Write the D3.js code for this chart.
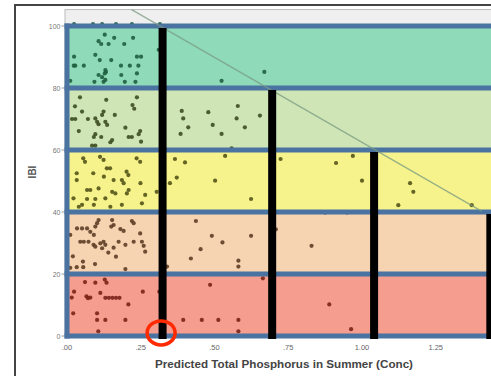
<!DOCTYPE html>
<html>
<head>
<meta charset="utf-8">
<script src="https://cdn.jsdelivr.net/npm/d3@7"></script>
<style>
  body { margin: 0; background: #fff; }
  svg { display: block; font-family: Arial, "Liberation Sans", sans-serif; }
</style>
</head>
<body>
<svg id="chart"></svg>
<script>
// IBI classes (lower, upper bound) and their fills
const classBreaks = [0, 20, 40, 60, 80, 100];
const classColors = ['#f59d8f', '#f6d3b1', '#f6f38c', '#cfe5b6', '#8fdab8'];
const pointColors = ['#7a2418', '#5e3e26', '#545418', '#3d4d22', '#1e5e3e'];

// axis ticks
const xTicks = [0, 0.25, 0.5, 0.75, 1, 1.25];
const xTickLabels = ['.00', '.25', '.50', '.75', '1.00', '1.25'];
const yTicks = [0, 20, 40, 60, 80, 100];
const yTickLabels = ['0', '20', '40', '60', '80', '100'];

// threshold bars: predicted TP where the fitted line crosses each class top
const barTP = [0.324, 0.6955, 1.041, 1.435];
const barTop = [100, 80, 60, 40];

// fitted line end points [TP, IBI]
const fitLine = [[0.219, 105.3], [1.405, 40.3]];

// highlighted site [TP, IBI]
const marked = [0.319, 1];

// sites: [predicted TP, IBI]
const sites = [
  // 80-100
  [0.024, 100.6], [0.088, 100.6], [0.119, 100.6], [0.166, 100.6], [0.22, 100.6], [0.315, 100.6],
  [0.128, 97.2], [0.160, 96.2], [0.224, 96.2], [0.107, 95.1], [0.116, 94.2], [0.141, 94.2], [0.194, 94.2],
  [0.311, 92.3], [0.096, 90.7], [0.024, 90.1], [0.237, 90.1], [0.251, 90.1], [0.111, 89], [0.150, 89],
  [0.023, 87.2], [0.028, 87.2], [0.057, 87.2], [0.183, 87.2], [0.213, 87.2], [0.242, 87.2],
  [0.130, 85.8], [0.132, 85.2], [0.128, 84.7], [0.107, 84.2], [0.184, 84.2], [0.237, 84.7],
  [0.119, 83.5], [0.130, 82.6], [0.124, 82], [0.093, 82], [0.011, 82.3], [0.196, 82], [0.232, 82],
  [0.524, 82.3], [0.669, 85.2],
  // 60-80
  [0.044, 77.0], [0.133, 76.2], [0.237, 77.0], [0.222, 74.5], [0.228, 73.3], [0.027, 74.1],
  [0.051, 72.4], [0.124, 72.4], [0.119, 71.3], [0.162, 71.3],
  [0.017, 70], [0.028, 70], [0.071, 70], [0.096, 70.2], [0.102, 69.1], [0.107, 68.3],
  [0.130, 69.1], [0.136, 68.1], [0.198, 67.2], [0.040, 66.1], [0.248, 66.1], [0.243, 65.1],
  [0.096, 65.1], [0.091, 64.2], [0.116, 64.2], [0.209, 64.2], [0.220, 64.2], [0.153, 63.2], [0.147, 62.5], [0.251, 62.7],
  [0.085, 61.4], [0.096, 61.4],
  [0.389, 72.6], [0.394, 70.2], [0.411, 67.3], [0.479, 72.2], [0.494, 68.1], [0.579, 74.2], [0.575, 70.2],
  [0.603, 67.3], [0.654, 71.1], [0.385, 65.2], [0.524, 65.2], [0.558, 60.5],
  // 40-60
  [0.055, 57.3], [0.061, 56.2], [0.112, 57.8], [0.124, 56.8], [0.135, 54.1], [0.146, 54.1], [0.236, 57.3], [0.248, 56.2],
  [0.033, 52.5], [0.089, 52.5], [0.202, 53.0], [0.208, 51.9], [0.125, 51.4],
  [0.033, 50.3], [0.158, 50.3], [0.186, 50.3], [0.192, 49.3], [0.249, 49.3],
  [0.068, 47.1], [0.079, 47.1], [0.107, 47.6], [0.153, 46.5], [0.164, 46.0], [0.209, 47.1], [0.203, 46.0], [0.265, 45.5],
  [0.304, 46.5], [0.022, 44.4], [0.068, 44.2], [0.096, 44.2], [0.130, 44.4],
  [0.051, 42.3], [0.040, 41.7], [0.091, 42.3], [0.147, 41.7], [0.186, 42.3], [0.254, 42.8],
  [0.366, 57.1], [0.400, 56.0], [0.536, 58.1], [0.372, 51.1], [0.349, 49.3], [0.502, 50.1], [0.624, 44.2],
  [0.724, 57.1], [0.912, 55.8], [0.969, 58.1], [1.0, 50.1], [1.163, 49.3], [1.174, 46.5], [1.123, 42.2],
  [1.372, 42.2],
  // 20-40
  [0.107, 37.4], [0.102, 36.4], [0.096, 35.3], [0.153, 37.4], [0.158, 35.8], [0.150, 35.3], [0.220, 37.1], [0.226, 36.4],
  [0.034, 34.7], [0.051, 34.7], [0.068, 34.7], [0.079, 33.6], [0.091, 32.6], [0.181, 34.5], [0.192, 33.9], [0.248, 33.1], [0.011, 32.6],
  [0.045, 30.4], [0.057, 30.4], [0.073, 30.4], [0.090, 29.4], [0.096, 28.8], [0.113, 29.9], [0.124, 30.4], [0.130, 29.4],
  [0.175, 30.4], [0.198, 29.4], [0.226, 30.4], [0.254, 30.4], [0.260, 29.1],
  [0.119, 28.3], [0.158, 28.5], [0.265, 27.2], [0.140, 26.9], [0.166, 25.6], [0.020, 25.7], [0.054, 24.0],
  [0.033, 22.2], [0.055, 22.2], [0.011, 22.0], [0.095, 23.2], [0.198, 21.6], [0.339, 22.4],
  [0.437, 37.1], [0.491, 32.3], [0.527, 30.2], [0.453, 28.0], [0.42, 25.0], [0.581, 24.3], [0.581, 22.4],
  [0.624, 32.3], [0.708, 34.4], [0.829, 29.1], [0.875, 39.8], [0.95, 39.8],
  // 0-20
  [0.061, 17.4], [0.096, 17.2], [0.128, 18.2], [0.134, 17.2],
  [0.024, 14.3], [0.113, 13.9], [0.257, 14.3], [0.313, 14.3],
  [0.016, 12.4], [0.066, 12.8], [0.071, 12.2], [0.079, 12.4],
  [0.130, 12.3], [0.142, 12.3], [0.154, 12.3], [0.166, 12.3], [0.178, 12.3],
  [0.208, 10.2], [0.021, 7.3], [0.102, 7.3], [0.102, 5.2], [0.130, 5.2], [0.198, 5.2],
  [0.485, 16.5], [0.394, 5.2], [0.457, 5.2], [0.513, 5.2], [0.581, 5.2],
  [0.664, 18.6], [0.889, 10.2], [0.963, 2.2], [0.106, 1.5], [0.581, 1.5]
];

const width = 491;
const height = 376;

const svg = d3.select('#chart')
  .attr('width', width)
  .attr('height', height)
  .attr('viewBox', [0, 0, width, height]);

// scales
const x = d3.scaleLinear().domain([0, 1.45]).range([67, 67 + 295 * 1.45]);
const y = d3.scaleLinear().domain([0, 100]).range([336, 26]);
const plotTop = y(105.3);
const plotRight = width + 10;

// outer frame
svg.append('rect')
  .attr('x', 15).attr('y', 5)
  .attr('width', width).attr('height', height)
  .attr('fill', '#fff')
  .attr('stroke', '#444')
  .attr('stroke-width', 2);

// plot background
svg.append('rect')
  .attr('x', 65).attr('y', plotTop)
  .attr('width', plotRight - 65).attr('height', y(0) - plotTop)
  .attr('fill', '#efefef')
  .attr('stroke', '#bbb')
  .attr('stroke-width', 1);

// class bands
svg.append('g')
  .selectAll('rect')
  .data(classColors)
  .join('rect')
    .attr('x', x(0))
    .attr('y', (_, i) => y(classBreaks[i + 1]))
    .attr('width', plotRight - x(0))
    .attr('height', (_, i) => y(classBreaks[i]) - y(classBreaks[i + 1]))
    .attr('fill', d => d);

// sites
svg.append('g')
  .selectAll('circle')
  .data(sites)
  .join('circle')
    .attr('cx', d => x(d[0]))
    .attr('cy', d => y(d[1]))
    .attr('r', 2.1)
    .attr('fill', d => pointColors[Math.min(4, Math.floor(d[1] / 20))])
    .attr('fill-opacity', 0.9);

// class borders
svg.append('g')
  .attr('stroke', '#4a73a1')
  .attr('stroke-width', 5)
  .call(g => g.selectAll('line')
    .data(classBreaks)
    .join('line')
      .attr('x1', x(0) - 2.5)
      .attr('x2', plotRight)
      .attr('y1', d => y(d))
      .attr('y2', d => y(d)))
  .call(g => g.append('line')
    .attr('x1', x(0)).attr('x2', x(0))
    .attr('y1', y(100) - 2.5).attr('y2', y(0) + 2.5));

// fitted line
svg.append('path')
  .attr('d', d3.line().x(d => x(d[0])).y(d => y(d[1]))(fitLine))
  .attr('fill', 'none')
  .attr('stroke', '#7a9a82')
  .attr('stroke-width', 1.3)
  .attr('stroke-opacity', 0.75);

// threshold bars
svg.append('g')
  .selectAll('rect')
  .data(barTP)
  .join('rect')
    .attr('x', d => x(d) - 4)
    .attr('y', (_, i) => y(barTop[i]) + 2)
    .attr('width', 8)
    .attr('height', (_, i) => y(0) - y(barTop[i]) + 1)
    .attr('fill', '#000');

// y axis
svg.append('g')
  .attr('fill', '#777')
  .attr('font-size', 7)
  .call(g => g.selectAll('text')
    .data(yTicks)
    .join('text')
      .attr('x', 60.5)
      .attr('y', d => y(d) + 2.5)
      .attr('text-anchor', 'end')
      .text((_, i) => yTickLabels[i]))
  .call(g => g.selectAll('line')
    .data(yTicks)
    .join('line')
      .attr('x1', 61.5).attr('x2', 64)
      .attr('y1', d => y(d)).attr('y2', d => y(d))
      .attr('stroke', '#999'));

// x axis
svg.append('g')
  .attr('fill', '#666')
  .attr('font-size', 7.5)
  .selectAll('text')
  .data(xTicks)
  .join('text')
    .attr('x', d => x(d))
    .attr('y', 350)
    .attr('text-anchor', 'middle')
    .text((_, i) => xTickLabels[i]);

// axis titles
svg.append('text')
  .attr('x', 155)
  .attr('y', 368)
  .attr('font-size', 10.5)
  .attr('font-weight', 'bold')
  .attr('fill', '#444')
  .attr('textLength', 258)
  .attr('lengthAdjust', 'spacingAndGlyphs')
  .text('Predicted Total Phosphorus in Summer (Conc)');

svg.append('text')
  .attr('transform', 'translate(36,172) rotate(-90)')
  .attr('text-anchor', 'middle')
  .attr('font-size', 10)
  .attr('font-weight', 'bold')
  .attr('fill', '#555')
  .text('IBI');

// highlight ring
svg.append('ellipse')
  .attr('cx', x(marked[0]))
  .attr('cy', y(marked[1]))
  .attr('rx', 14)
  .attr('ry', 12)
  .attr('fill', 'none')
  .attr('stroke', '#ff2a00')
  .attr('stroke-width', 3.5);
</script>
</body>
</html>
